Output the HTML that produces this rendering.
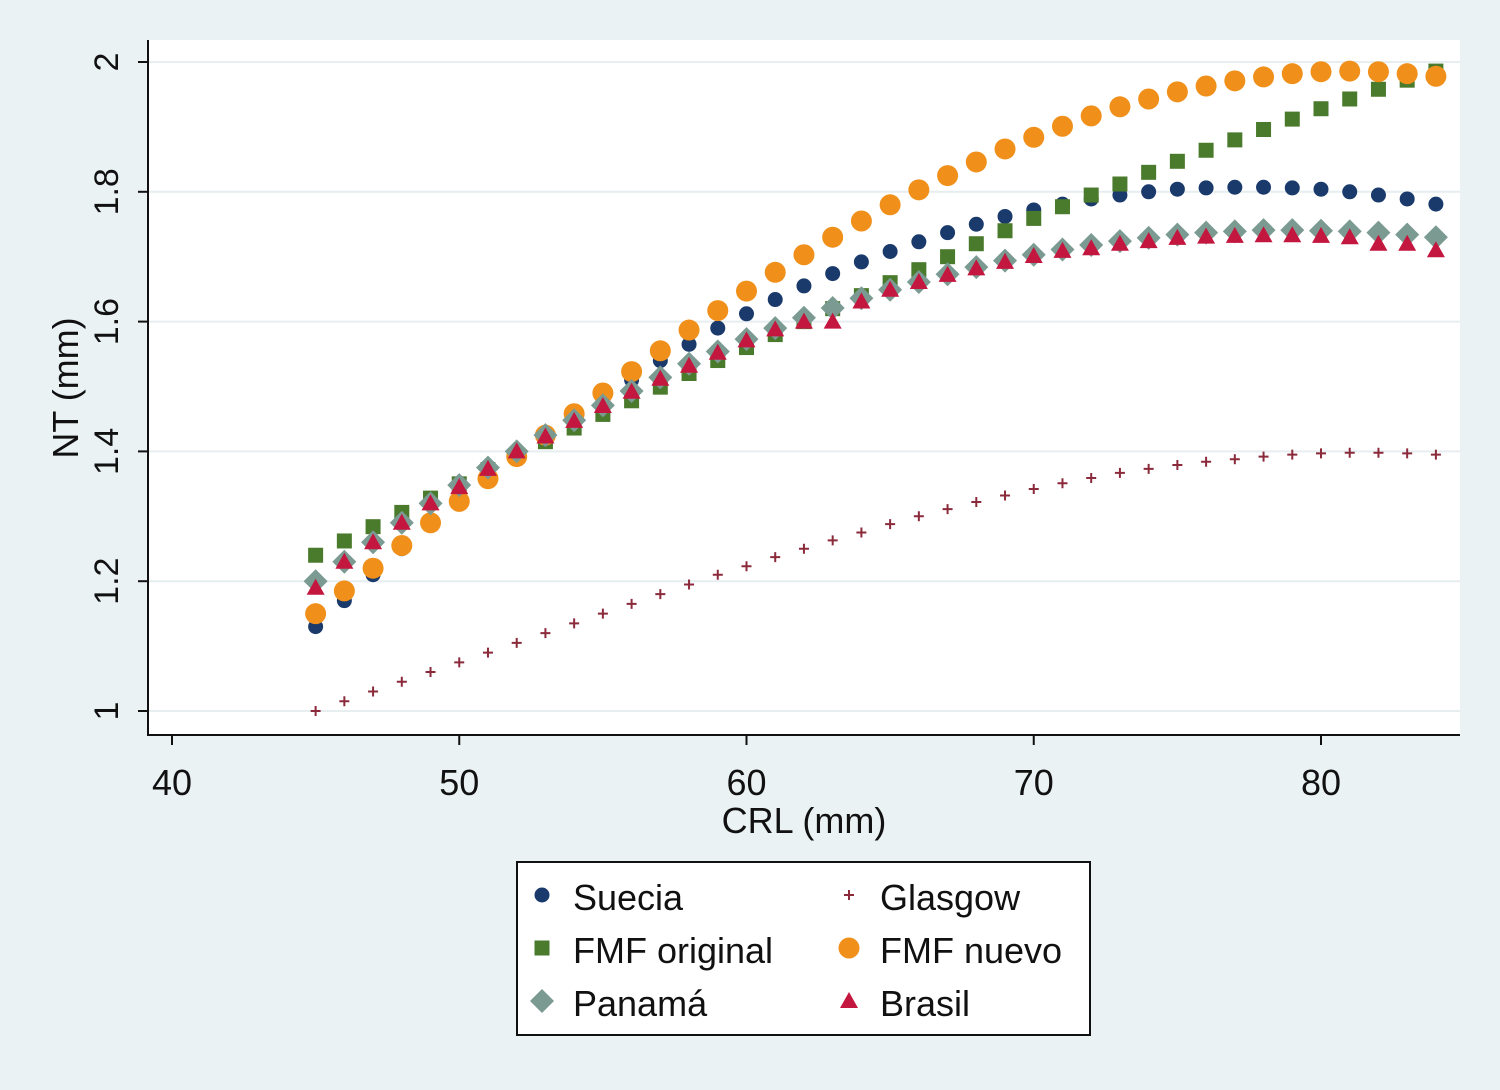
<!DOCTYPE html>
<html><head><meta charset="utf-8">
<style>
html,body{margin:0;padding:0;background:#eaf2f3;}
svg{display:block;font-family:"Liberation Sans",Arial,sans-serif;}
</style></head>
<body>
<svg id="chart" width="1500" height="1090" viewBox="0 0 1500 1090" xmlns="http://www.w3.org/2000/svg">
<rect x="0" y="0" width="1500" height="1090" fill="#eaf2f3"/>
<rect x="148" y="40" width="1312" height="695" fill="#ffffff"/>
<g id="grid"></g>
<g id="axes"></g>
<g id="marks"></g>
<text x="804" y="833" font-size="36" text-anchor="middle" fill="#111">CRL (mm)</text>
<text transform="translate(78,388) rotate(-90)" font-size="36" text-anchor="middle" fill="#111">NT (mm)</text>
<rect x="517" y="862" width="573" height="173" fill="#ffffff" stroke="#111" stroke-width="2"/>
<g id="legend"></g>
</svg>
<script>
const crl = [45,46,47,48,49,50,51,52,53,54,55,56,57,58,59,60,61,62,63,64,65,66,67,68,69,70,71,72,73,74,75,76,77,78,79,80,81,82,83,84];
const suecia = [1.13,1.17,1.21,1.25,1.29,1.33,1.36,1.39,1.42,1.45,1.48,1.51,1.54,1.565,1.59,1.612,1.634,1.655,1.674,1.692,1.708,1.723,1.737,1.75,1.762,1.772,1.781,1.789,1.795,1.8,1.804,1.806,1.807,1.807,1.806,1.804,1.8,1.795,1.789,1.781];
const glasgow = [1.0,1.015,1.03,1.045,1.06,1.075,1.09,1.105,1.12,1.135,1.15,1.165,1.18,1.195,1.21,1.223,1.237,1.25,1.263,1.275,1.288,1.3,1.311,1.322,1.332,1.342,1.351,1.359,1.367,1.373,1.379,1.384,1.388,1.392,1.395,1.397,1.398,1.398,1.397,1.395];
const fmfOriginal = [1.24,1.262,1.284,1.306,1.328,1.35,1.372,1.394,1.415,1.436,1.457,1.478,1.499,1.52,1.54,1.56,1.58,1.6,1.62,1.64,1.66,1.68,1.7,1.72,1.74,1.759,1.777,1.795,1.812,1.83,1.847,1.864,1.88,1.896,1.912,1.928,1.943,1.958,1.972,1.986];
const fmfNuevo = [1.15,1.185,1.22,1.255,1.29,1.323,1.358,1.392,1.425,1.458,1.49,1.523,1.555,1.587,1.617,1.647,1.676,1.703,1.73,1.755,1.78,1.803,1.825,1.846,1.866,1.884,1.901,1.917,1.931,1.943,1.954,1.963,1.971,1.977,1.982,1.985,1.986,1.985,1.982,1.978];
const panama = [1.2,1.23,1.26,1.29,1.32,1.348,1.375,1.4,1.425,1.448,1.471,1.493,1.514,1.535,1.554,1.573,1.59,1.606,1.621,1.636,1.649,1.661,1.673,1.684,1.694,1.703,1.711,1.718,1.724,1.729,1.734,1.737,1.739,1.741,1.741,1.74,1.739,1.737,1.734,1.73];
const brasil = [1.19,1.23,1.26,1.29,1.32,1.345,1.373,1.4,1.423,1.447,1.47,1.492,1.512,1.532,1.552,1.571,1.588,1.6,1.6,1.631,1.649,1.661,1.672,1.682,1.692,1.701,1.709,1.713,1.72,1.724,1.729,1.731,1.732,1.733,1.733,1.732,1.73,1.72,1.72,1.71];
const xTicks = [40,50,60,70,80];
const yTicks = [1,1.2,1.4,1.6,1.8,2];
const yTickLabels = ["1","1.2","1.4","1.6","1.8","2"];

const NS = "http://www.w3.org/2000/svg";
function xs(v){ return 172 + (v-40)*28.725; }
function ys(v){ return 711 - (v-1)*649; }
function mk(tag, attrs, parent){
  const e = document.createElementNS(NS, tag);
  for (const k in attrs) e.setAttribute(k, attrs[k]);
  parent.appendChild(e);
  return e;
}
const grid = document.getElementById('grid');
const axes = document.getElementById('axes');
const marks = document.getElementById('marks');
const legend = document.getElementById('legend');

yTicks.forEach((t,i)=>{
  const g = mk('line',{x1:148,x2:1460,y1:ys(t),y2:ys(t),stroke:'#e6eef0','stroke-width':2},grid);
  
  
  const tk = mk('line',{x1:138,x2:148,y1:ys(t),y2:ys(t),stroke:'#111','stroke-width':2},axes);
  
  
  const y = ys(t);
  const lb = mk('text',{transform:`translate(118,${y}) rotate(-90)`,'font-size':34,'text-anchor':'middle',fill:'#111'},axes);
  lb.textContent = yTickLabels[i];
  
  
});
xTicks.forEach(t=>{
  const tk = mk('line',{x1:xs(t),x2:xs(t),y1:735,y2:745,stroke:'#111','stroke-width':2},axes);
  
  
  const lb = mk('text',{x:xs(t),y:795,'font-size':36,'text-anchor':'middle',fill:'#111'},axes);
  lb.textContent = String(t);
  
  
});
const ax1 = mk('line',{x1:148,x2:148,y1:40,y2:736,stroke:'#111','stroke-width':2},axes);


const ax2 = mk('line',{x1:147,x2:1460,y1:735,y2:735,stroke:'#111','stroke-width':2},axes);



function marker(shape, color, cx, cy, parent){
  let e;
  if (shape==='circle') e = mk('circle',{cx:cx,cy:cy,r:7.5,fill:color},parent);
  else if (shape==='bigcircle') e = mk('circle',{cx:cx,cy:cy,r:10.5,fill:color},parent);
  else if (shape==='square') e = mk('rect',{x:cx-7.5,y:cy-7.5,width:15,height:15,fill:color},parent);
  else if (shape==='diamond') e = mk('polygon',{points:`${cx},${cy-12} ${cx+12},${cy} ${cx},${cy+12} ${cx-12},${cy}`,fill:color},parent);
  else if (shape==='triangle') e = mk('polygon',{points:`${cx},${cy-9} ${cx+9},${cy+7} ${cx-9},${cy+7}`,fill:color},parent);
  else { e = mk('path',{d:`M${cx-5},${cy}H${cx+5}M${cx},${cy-5}V${cy+5}`,stroke:color,'stroke-width':2},parent); }
  return e;
}
const series = [
  {name:'suecia',label:'Suecia',vals:suecia,shape:'circle',color:'#1a3a6b'},
  {name:'glasgow',label:'Glasgow',vals:glasgow,shape:'plus',color:'#8b2a3a'},
  {name:'fmf-original',label:'FMF original',vals:fmfOriginal,shape:'square',color:'#4a7a2c'},
  {name:'fmf-nuevo',label:'FMF nuevo',vals:fmfNuevo,shape:'bigcircle',color:'#f0901a'},
  {name:'panama',label:'Panamá',vals:panama,shape:'diamond',color:'#7a9a92'},
  {name:'brasil',label:'Brasil',vals:brasil,shape:'triangle',color:'#c4173f'}
];
series.forEach(s=>{
  const g = mk('g',{},marks);
  
  
  s.vals.forEach((v,i)=>{
    const m = marker(s.shape, s.color, xs(crl[i]), ys(v), g);
    
    
  });
});
const legPos = {suecia:[542,898],'fmf-original':[542,951],panama:[542,1004],glasgow:[849,898],'fmf-nuevo':[849,951],brasil:[849,1004]};
series.forEach(s=>{
  const p = legPos[s.name];
  const g = mk('g',{},legend);
  
  
  const sh = s.shape==='diamond' ? 'diamond' : s.shape;
  const m = marker(sh, s.color, p[0], p[1]-3, g);
  
  
  const t = mk('text',{x:p[0]+31,y:p[1]+12,'font-size':36,fill:'#111'},g);
  t.textContent = s.label;
  
  
});
</script>
</body></html>
